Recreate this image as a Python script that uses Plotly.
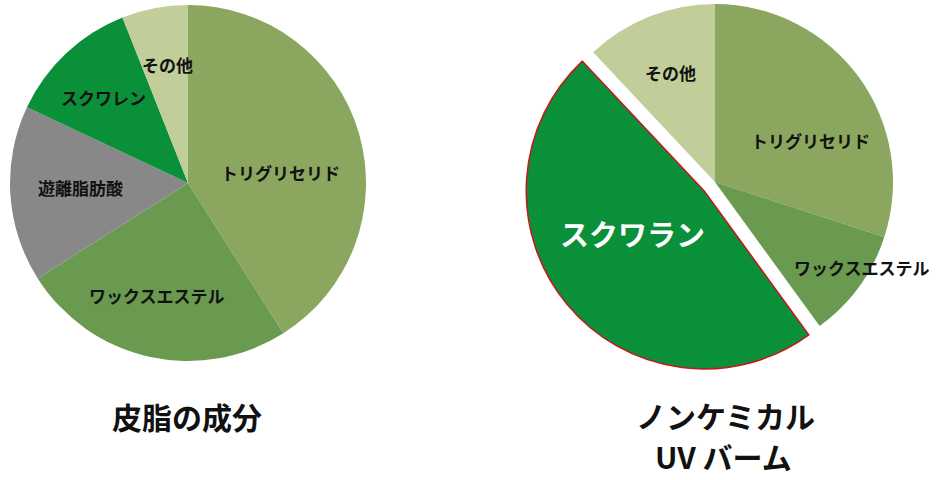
import math
import plotly.graph_objects as go

# 皮脂の成分 (clockwise from 12 o'clock)
sebum_labels = ["トリグリセリド", "ワックスエステル", "遊離脂肪酸", "スクワレン", "その他"]
sebum_values = [41, 25, 16, 12, 6]
sebum_colors = ["#8ba65e", "#699a50", "#888888", "#0a9039", "#c2ce9a"]

# ノンケミカル UV バーム
balm_labels = ["トリグリセリド", "ワックスエステル", "スクワラン", "その他"]
balm_values = [30, 10, 48, 12]
balm_colors = ["#8ba65e", "#699a50", "#0a9039", "#c2ce9a"]
highlight = "スクワラン"

W, H = 940, 480
R = 178                  # pie radius in px
PULL_PX = 14             # how far the highlighted slice is pushed out


def domain(cx, cy, r=R):
    # cx, cy in px from top-left -> paper domain
    return dict(x=[(cx - r) / W, (cx + r) / W],
                y=[(H - cy - r) / H, (H - cy + r) / H])


fig = go.Figure()

fig.add_trace(go.Pie(
    labels=sebum_labels, values=sebum_values,
    marker=dict(colors=sebum_colors, line=dict(width=0)),
    sort=False, direction="clockwise", rotation=0,
    textinfo="none", hoverinfo="label+percent",
    domain=domain(188, 183), showlegend=False,
))

# right pie: base slices, highlighted one left empty
hi = balm_labels.index(highlight)
base_colors = [c if i != hi else "rgba(0,0,0,0)" for i, c in enumerate(balm_colors)]
fig.add_trace(go.Pie(
    labels=balm_labels, values=balm_values,
    marker=dict(colors=base_colors, line=dict(width=0)),
    sort=False, direction="clockwise", rotation=0,
    textinfo="none", hoverinfo="label+percent",
    domain=domain(715, 182), showlegend=False,
))

# the pushed-out slice, drawn as its own trace shifted along its bisector
total = sum(balm_values)
mid = 360 * (sum(balm_values[:hi]) + balm_values[hi] / 2) / total
dx = PULL_PX * math.sin(math.radians(mid))
dy = -PULL_PX * math.cos(math.radians(mid))
pull_colors = ["rgba(0,0,0,0)"] * len(balm_values)
pull_colors[hi] = balm_colors[hi]
line_w = [0] * len(balm_values)
line_w[hi] = 1.5
fig.add_trace(go.Pie(
    labels=balm_labels, values=balm_values,
    marker=dict(colors=pull_colors, line=dict(width=line_w, color="#c4161c")),
    sort=False, direction="clockwise", rotation=0,
    textinfo="none", hoverinfo="skip",
    domain=domain(715 + dx, 182 + dy), showlegend=False,
))

font = "Noto Sans CJK JP, Noto Sans, sans-serif"


def label(text, x, y, size=17, color="#111111"):
    fig.add_annotation(text=f"<b>{text}</b>", x=x / W, y=1 - y / H,
                       xref="paper", yref="paper", xanchor="center", yanchor="middle",
                       showarrow=False, borderpad=0,
                       font=dict(family=font, size=size, color=color))


# slice labels (px from top-left)
label("トリグリセリド", 280, 173)
label("ワックスエステル", 157, 295)
label("遊離脂肪酸", 80, 187)
label("スクワレン", 103, 98)
label("その他", 167, 65)

label("トリグリセリド", 810, 140)
label("ワックスエステル", 862, 267)
label("スクワラン", 632, 233, size=29, color="#ffffff")
label("その他", 670, 72)

# chart titles
label("皮脂の成分", 187, 416, size=30)
label("ノンケミカル", 725, 415, size=30)
label("UV バーム", 723, 456, size=30)

fig.update_layout(
    width=W, height=H,
    margin=dict(l=0, r=0, t=0, b=0),
    paper_bgcolor="white", plot_bgcolor="white",
)

# drop the default 8px page margin so the figure sits at the window corner
fig.write_html("out.html", config={"displayModeBar": False},
               post_script="document.body.style.margin='0';")
